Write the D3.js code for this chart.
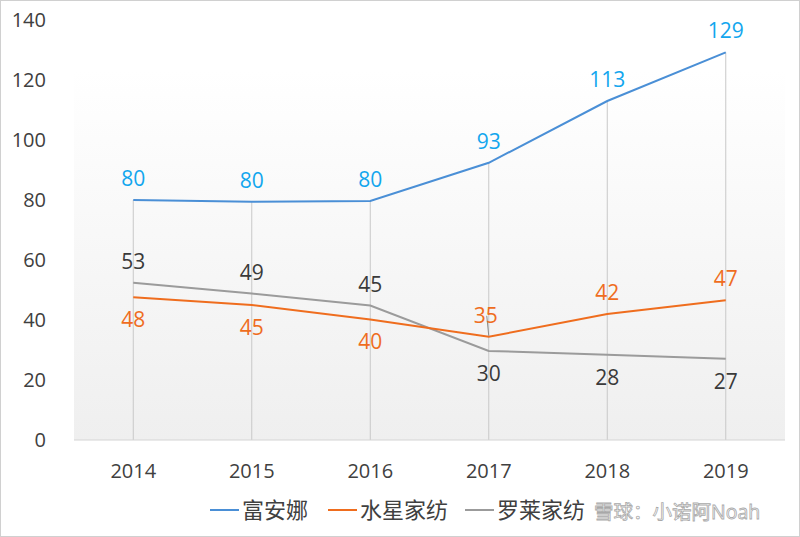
<!DOCTYPE html>
<html>
<head>
<meta charset="utf-8">
<script src="https://cdn.jsdelivr.net/npm/d3@7"></script>
<style>
  body { margin: 0; background: #fff; }
  svg { display: block; }
  text { font-family: "Open Sans", "Noto Sans CJK SC", sans-serif; }
</style>
</head>
<body>
<div id="container"></div>
<script>
"use strict";

const years = ["2014", "2015", "2016", "2017", "2018", "2019"];
const fuanna = [80, 79.4, 79.7, 92.4, 113, 129.2];
const shuixing = [47.6, 45, 40.2, 34.4, 42, 46.6];
const luolai = [52.4, 48.8, 44.8, 29.7, 28.4, 27.1];
const yTicks = [0, 20, 40, 60, 80, 100, 120, 140];

const labelsFuanna = ["80", "80", "80", "93", "113", "129"];
const labelsShuixing = ["48", "45", "40", "35", "42", "47"];
const labelsLuolai = ["53", "49", "45", "30", "28", "27"];

const series = [
  { name: "富安娜", values: fuanna, labels: labelsFuanna, color: "#4a8fd6", labelColor: "#12a6ee",
    pos: ["up", "up", "up", "up", "up", "up"] },
  { name: "水星家纺", values: shuixing, labels: labelsShuixing, color: "#ef6d1e", labelColor: "#ef6d1e",
    pos: ["down", "down", "down", "up", "up", "up"] },
  { name: "罗莱家纺", values: luolai, labels: labelsLuolai, color: "#9b9b9b", labelColor: "#3a3a3a",
    pos: ["up", "up", "up", "down", "down", "down"] }
];

const width = 800, height = 537;
const margin = { top: 20, right: 15, bottom: 97, left: 74 };

const svg = d3.select("#container").append("svg")
  .attr("width", width).attr("height", height);

// outer border
svg.append("rect")
  .attr("x", 0.5).attr("y", 0.5)
  .attr("width", width - 1).attr("height", height - 1)
  .attr("fill", "#fff").attr("stroke", "#d0d0d0");

const defs = svg.append("defs");
const grad = defs.append("linearGradient")
  .attr("id", "bg").attr("x1", 0).attr("y1", 0).attr("x2", 0).attr("y2", 1);
grad.append("stop").attr("offset", "0%").attr("stop-color", "#ffffff");
grad.append("stop").attr("offset", "12%").attr("stop-color", "#ffffff");
grad.append("stop").attr("offset", "100%").attr("stop-color", "#efefef");

const x = d3.scaleBand().domain(years)
  .range([margin.left, width - margin.right]);
const y = d3.scaleLinear().domain([0, 140])
  .range([height - margin.bottom, margin.top]);

const cx = (d) => x(d) + x.bandwidth() / 2;

// plot background
svg.append("rect")
  .attr("x", x.range()[0]).attr("y", y(140))
  .attr("width", x.range()[1] - x.range()[0])
  .attr("height", y(0) - y(140))
  .attr("fill", "url(#bg)");

// drop lines
svg.append("g").selectAll("line").data(years)
  .enter().append("line")
  .attr("x1", (d) => cx(d)).attr("x2", (d) => cx(d))
  .attr("y1", (d, i) => y(Math.max(fuanna[i], shuixing[i], luolai[i])))
  .attr("y2", y(0))
  .attr("stroke", "#c8c8c8").attr("stroke-width", 1);

// x axis line
svg.append("line")
  .attr("x1", x.range()[0]).attr("x2", x.range()[1])
  .attr("y1", y(0)).attr("y2", y(0))
  .attr("stroke", "#d4d4d4");

// y tick labels
svg.append("g").selectAll("text").data(yTicks)
  .enter().append("text")
  .attr("x", 46).attr("y", (d) => y(d) + 7)
  .attr("text-anchor", "end")
  .attr("font-size", 20).attr("fill", "#404040")
  .text((d) => d);

// x tick labels
svg.append("g").selectAll("text").data(years)
  .enter().append("text")
  .attr("x", (d) => cx(d)).attr("y", 478)
  .attr("text-anchor", "middle")
  .attr("font-size", 20).attr("fill", "#404040")
  .text((d) => d);

const line = d3.line()
  .x((d, i) => cx(years[i]))
  .y((d) => y(d));

// lines (grey first so others sit on top)
[series[2], series[1], series[0]].forEach((s) => {
  svg.append("path")
    .datum(s.values)
    .attr("d", line)
    .attr("fill", "none")
    .attr("stroke", s.color)
    .attr("stroke-width", 2);
});

// leader line for 35 label
svg.append("line")
  .attr("x1", cx("2017") - 2).attr("y1", y(shuixing[3]) - 21)
  .attr("x2", cx("2017")).attr("y2", y(shuixing[3]) - 1)
  .attr("stroke", "#8c8c8c").attr("stroke-width", 1);

// data labels
series.forEach((s) => {
  svg.append("g").selectAll("text").data(s.values)
    .enter().append("text")
    .attr("x", (d, i) => cx(years[i]) + (s.name === "水星家纺" && i === 3 ? -3 : 0))
    .attr("y", (d, i) => s.pos[i] === "up" ? y(d) - 14 : y(d) + 30)
    .attr("text-anchor", "middle")
    .attr("font-size", 21)
    .attr("fill", s.labelColor)
    .text((d, i) => s.labels[i]);
});

// legend
const legendX = [210, 328, 465];
series.forEach((s, i) => {
  const g = svg.append("g").attr("transform", `translate(${legendX[i]},510)`);
  g.append("line").attr("x1", 0).attr("x2", 29).attr("y1", 0).attr("y2", 0)
    .attr("stroke", s.color).attr("stroke-width", 2);
  g.append("text").attr("x", 32).attr("y", 8)
    .attr("font-size", 22).attr("fill", "#404040")
    .attr("font-family", "Noto Sans CJK SC")
    .text(s.name);
});

// watermark (moved a little right so it does not cover the legend)
svg.append("text")
  .attr("x", 594).attr("y", 519)
  .attr("font-size", 19.5)
  .attr("font-family", "Noto Sans CJK SC")
  .attr("fill", "#ffffff").attr("stroke", "#9a9a9a").attr("stroke-width", 0.8)
  .attr("opacity", 0.85)
  .text("雪球：小诺阿Noah");
</script>
</body>
</html>
